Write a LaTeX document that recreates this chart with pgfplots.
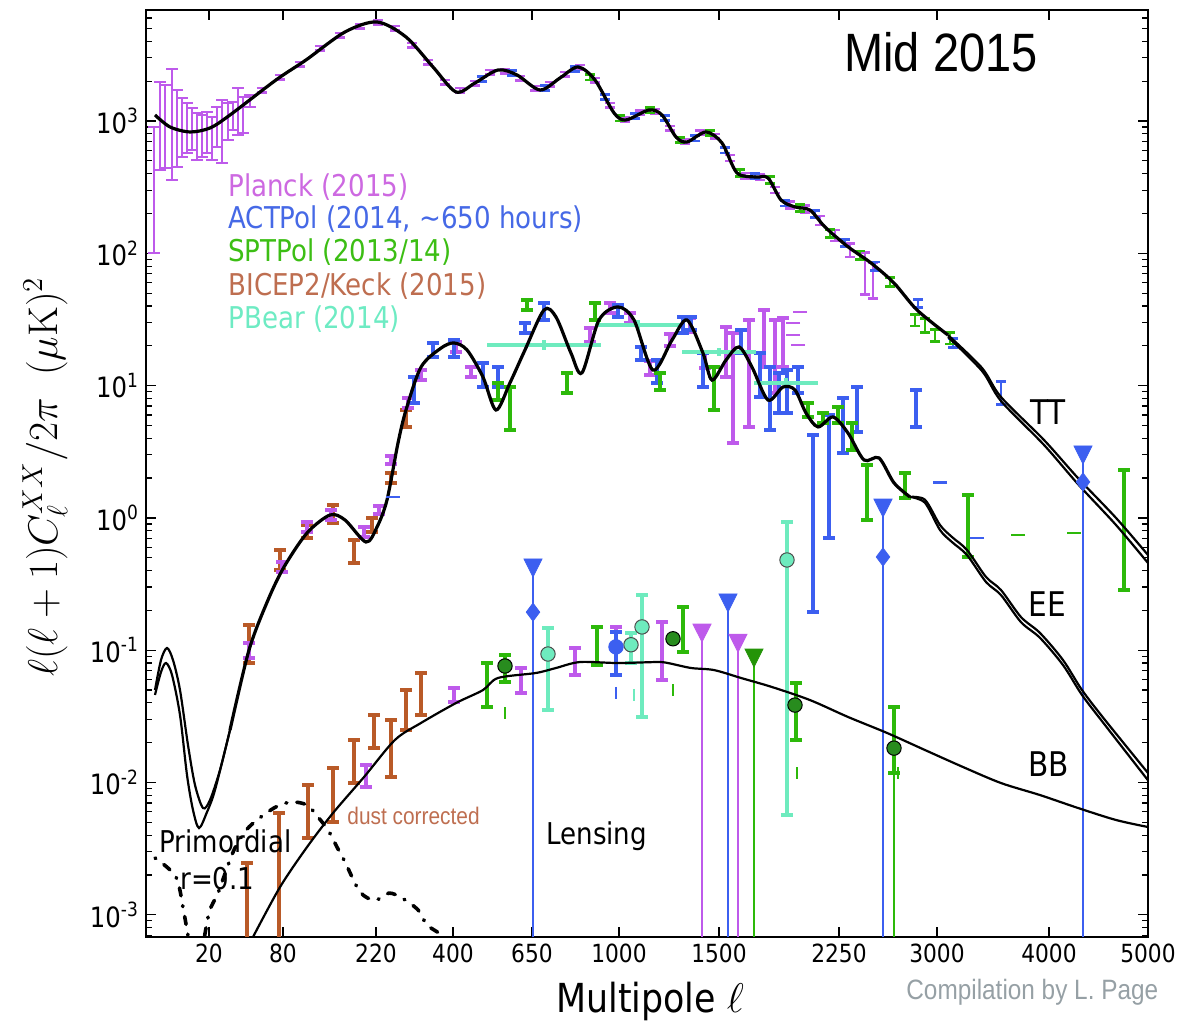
\documentclass[border=0pt]{standalone}
\usepackage[no-math]{fontspec}
\setmainfont{DejaVu Sans}[FakeStretch=0.87]
\newfontfamily\arialc{Liberation Sans}[FakeStretch=0.87]
\usepackage{pgfplots}
\pgfplotsset{compat=1.18}
\definecolor{planck}{RGB}{190,90,235}
\definecolor{act}{RGB}{60,95,240}
\definecolor{spt}{RGB}{45,185,10}
\definecolor{bicep}{RGB}{185,90,40}
\definecolor{pbear}{RGB}{110,235,190}
\definecolor{dkgreen}{RGB}{40,140,30}
\definecolor{plancktxt}{RGB}{205,105,225}
\definecolor{acttxt}{RGB}{70,105,230}
\definecolor{spttxt}{RGB}{60,190,20}
\definecolor{biceptxt}{RGB}{190,110,80}
\definecolor{pbeartxt}{RGB}{110,235,195}
\definecolor{pagegray}{RGB}{150,160,165}
\pgfplotsset{
  ebar/.style 2 args={draw=none, mark=none, forget plot,
    error bars/.cd, y dir=both, y explicit,
    error bar style={draw=#1, line width=#2},
    error mark options={draw=#1, line width=#2, mark size=2.8pt, rotate=90}},
  rbar/.style 2 args={draw=none, mark=none, forget plot,
    error bars/.cd, y dir=both, y explicit relative,
    error bar style={draw=#1, line width=#2},
    error mark options={draw=#1, line width=#2, mark size=2.6pt, rotate=90}},
}
\begin{document}
\begin{tikzpicture}
\useasboundingbox (-73pt,-43pt) rectangle (517pt,468.5pt);
\begin{axis}[
  at={(0,0)}, anchor=south west,
  scale only axis, width=501pt, height=463.5pt,
  xmin=146, xmax=1148,
  ymode=log, ymin=6.8e-4, ymax=6900,
  xtick={209,283,376,453,532,619,719,839,937,1049,1148},
  xticklabels={20,80,220,400,650,1000,1500,2250,3000,4000,5000},
  ytick={1e-3,1e-2,1e-1,1,10,100,1000},
  yticklabels={10\textsuperscript{-3},10\textsuperscript{-2},10\textsuperscript{-1},10\textsuperscript{0},10\textsuperscript{1},10\textsuperscript{2},10\textsuperscript{3}},
  minor ytick={7e-4,8e-4,9e-4,2e-3,3e-3,4e-3,5e-3,6e-3,7e-3,8e-3,9e-3,0.02,0.03,0.04,0.05,0.06,0.07,0.08,0.09,0.2,0.3,0.4,0.5,0.6,0.7,0.8,0.9,2,3,4,5,6,7,8,9,20,30,40,50,60,70,80,90,200,300,400,500,600,700,800,900,2000,3000,4000,5000,6000},
  tick align=inside,
  major tick length=5pt, minor tick length=3pt,
  every tick/.style={black, line width=0.6pt},
  axis line style={line width=1pt},
  xticklabel style={font=\fontsize{12.5}{14}\selectfont},
  yticklabel style={font=\fontsize{14}{16}\selectfont},
]
% ---------------- TT data ----------------
\addplot[ebar={planck}{0.9pt}] table[x=u, y=v, y error plus expr=\thisrow{hi}-\thisrow{v}, y error minus expr=\thisrow{v}-\thisrow{lo}] {
u v lo hi
154 658 100.5 901
160 855 426 1972
165 933 441 1871
172 1018 358 2472
177 855 449 1715
182 933 535 1492
187 885 573 1368
192 855 604 1254
197 757 507 1150
202 784 535 1110
207 812 573 1170
212 744 507 1072
217 901 636 1276
222 826 481 1441
228 983 719 1368
233 1072 855 1392
238 1170 784 1776
243 1110 812 1519
250 1441 1276 1572
};
\addplot[rbar={planck}{1.2pt}] table[x=u, y=v, y error=r] {
u v r
262 1715 0.04
280 2150 0.04
300 2697 0.04
320 3563 0.04
340 4467 0.04
360 5225 0.04
378 5603 0.04
395 5046 0.04
412 3753 0.04
428 2793 0.04
445 1972 0.04
460 1715 0.04
475 1938 0.04
490 2347 0.04
505 2388 0.04
520 2113 0.04
535 1776 0.04
550 1904 0.04
565 2266 0.04
580 2560 0.04
595 2041 0.04
610 1321 0.04
625 1035 0.04
640 1150 0.04
655 1190 0.04
670 885 0.04
685 706 0.04
700 812 0.04
715 770 0.04
730 525 0.05
745 384 0.05
760 377 0.05
775 301 0.05
790 232 0.06
805 216 0.06
820 178 0.08
835 137 0.1
850 106 0.12
865 75 0.35
873 65 0.3
};
\addplot[rbar={act}{1.4pt}] table[x=u, y=v, y error=r] {
u v r
482 2078 0.04
512 2306 0.04
545 1776 0.04
575 2472 0.04
605 1519 0.04
635 1091 0.04
665 1054 0.04
695 744 0.05
725 604 0.05
755 384 0.05
785 240 0.05
815 198 0.06
845 120 0.06
875 80.2 0.07
918 42.1 0.07
953 21.0 0.08
1001 8.95 0.2
};
\addplot[rbar={spt}{1.4pt}] table[x=u, y=v, y error=r] {
u v r
590 2150 0.05
620 1054 0.05
650 1211 0.05
680 719 0.05
710 812 0.05
740 405 0.06
770 358 0.06
800 220 0.06
830 142 0.07
860 97.1 0.07
890 60.7 0.08
915 31.3 0.1
925 28.7 0.12
935 24.1 0.1
950 22.9 0.1
};
% ---------------- EE data ----------------
\addplot[ebar={bicep}{2pt}] table[x=u, y=v, y error plus expr=\thisrow{hi}-\thisrow{v}, y error minus expr=\thisrow{v}-\thisrow{lo}] {
u v lo hi
249 0.110 0.0800 0.155
280 0.481 0.404 0.572
307 0.796 0.705 0.884
333 1.07 0.915 1.25
354 0.553 0.456 0.681
372 0.884 0.782 1.00
391 2.00 1.84 2.19
406 5.69 4.87 6.54
};
\addplot[ebar={planck}{2pt}] table[x=u, y=v, y error plus expr=\thisrow{hi}-\thisrow{v}, y error minus expr=\thisrow{v}-\thisrow{lo}] {
u v lo hi
249 0.100 0.0873 0.113
282 0.425 0.390 0.464
307 0.854 0.782 0.931
331 1.05 0.964 1.15
364 0.782 0.717 0.854
379 1.15 1.07 1.23
391 2.74 2.56 2.94
408 7.39 6.77 8.06
421 12.0 11.0 13.1
456 19.6 17.9 21.4
471 12.7 11.6 13.8
590 24.1 21.4 27.3
610 38.6 35.4 42.1
630 32.4 29.7 35.4
650 13.6 12.0 15.3
670 22.1 19.9 24.6
690 28.7 25.4 32.4
705 15.6 13.6 17.9
726 18.6 11.6 27.7
733 9.26 3.68 25.0
749 13.1 4.87 31.3
764 22.1 13.8 37.3
775 17.0 8.79 31.3
783 20.3 13.8 32.4
};
\addplot[ebar={act}{2pt}] table[x=u, y=v, y error plus expr=\thisrow{hi}-\thisrow{v}, y error minus expr=\thisrow{v}-\thisrow{lo}] {
u v lo hi
414 9.26 7.39 11.6
433 18.6 16.5 21.0
454 19.2 16.5 22.1
483 12.0 9.76 14.8
498 11.6 9.76 13.8
525 27.3 25.0 29.7
544 36.0 31.3 42.1
618 36.6 33.0 40.7
641 17.6 15.6 19.6
657 12.9 10.5 15.6
683 28.7 25.0 33.0
691 29.7 26.3 33.0
703 13.1 9.76 17.6
741 21.7 17.6 26.3
760 12.0 8.20 17.6
770 8.06 4.62 13.8
779 8.79 6.21 12.5
787 9.10 6.21 13.1
798 11.0 8.79 13.8
813 0.915 0.194 4.23
829 2.07 0.705 6.00
843 5.04 3.09 8.06
857 6.54 4.46 9.76
916 6.77 4.87 9.26
};
\addplot[ebar={spt}{2pt}] table[x=u, y=v, y error plus expr=\thisrow{hi}-\thisrow{v}, y error minus expr=\thisrow{v}-\thisrow{lo}] {
u v lo hi
498 9.10 7.78 10.5
510 6.77 4.62 9.76
527 40.7 37.3 44.4
567 10.5 8.79 12.5
595 36.6 31.3 42.1
660 10.8 9.26 12.5
714 9.59 6.54 13.8
808 6.54 5.79 7.39
823 5.69 5.22 6.21
838 6.00 5.22 6.89
852 4.16 3.26 5.22
867 1.57 0.964 2.51
905 1.77 1.41 2.19
968 0.869 0.507 1.49
1124 0.810 0.285 2.30
};
\addplot[draw=none, mark=none, forget plot,
  error bars/.cd, x dir=both, x explicit, y dir=both, y explicit,
  error bar style={draw=pbear, line width=2pt}, error mark=none]
  table[x=u, y=v, x error=xe, y error plus expr=\thisrow{hi}-\thisrow{v}, y error minus expr=\thisrow{v}-\thisrow{lo}] {
u v xe lo hi
544 20.3 57 18.6 22.1
638 28.7 43 26.3 31.3
719 17.9 37 16.7 19.2
786 10.5 32 9.59 11.4
};
\addplot[only marks, mark=-, mark size=3.5pt, mark options={draw=planck, line width=1.4pt}, forget plot] coordinates {(800,36.0) (793,29.7) (793,24.1) (798,20.3)};
\addplot[only marks, mark=-, mark size=3.5pt, mark options={draw=act, line width=1.4pt}, forget plot] coordinates {(393,1.44) (940,1.84) (977,0.705)};
\addplot[only marks, mark=-, mark size=3.5pt, mark options={draw=spt, line width=1.4pt}, forget plot] coordinates {(1018,0.743) (1074,0.769)};
% ---------------- BB data ----------------
\addplot[ebar={bicep}{2pt}] table[x=u, y=v, y error plus expr=\thisrow{hi}-\thisrow{v}, y error minus expr=\thisrow{v}-\thisrow{lo}] {
u v lo hi
247 0.00129 0.0003 0.00246
279 0.00183 0.0003 0.00588
308 0.00598 0.00381 0.00958
333 0.00804 0.00503 0.0129
354 0.0143 0.00991 0.0210
374 0.0241 0.0182 0.0324
391 0.0182 0.0110 0.0297
406 0.0353 0.0249 0.0500
421 0.0467 0.0324 0.0673
};
\addplot[ebar={planck}{2pt}] table[x=u, y=v, y error plus expr=\thisrow{hi}-\thisrow{v}, y error minus expr=\thisrow{v}-\thisrow{lo}] {
u v lo hi
366 0.0112 0.00925 0.0136
454 0.0459 0.0406 0.0518
521 0.0595 0.0475 0.0734
575 0.0829 0.0650 0.104
616 0.126 0.106 0.150
662 0.0987 0.0595 0.163
};
\addplot[ebar={spt}{2pt}] table[x=u, y=v, y error plus expr=\thisrow{hi}-\thisrow{v}, y error minus expr=\thisrow{v}-\thisrow{lo}] {
u v lo hi
487 0.0546 0.0372 0.0800
505 0.0760 0.0575 0.0920
597 0.108 0.0773 0.150
683 0.142 0.0969 0.212
796 0.0347 0.0210 0.0565
894 0.0182 0.0118 0.0372
};
\addplot[ebar={pbear}{2pt}] table[x=u, y=v, y error plus expr=\thisrow{hi}-\thisrow{v}, y error minus expr=\thisrow{v}-\thisrow{lo}] {
u v lo hi
548 0.0936 0.0353 0.147
631 0.110 0.0800 0.135
642 0.150 0.0313 0.261
787 0.481 0.00568 0.931
};
\addplot[ebar={act}{2pt}] table[x=u, y=v, y error plus expr=\thisrow{hi}-\thisrow{v}, y error minus expr=\thisrow{v}-\thisrow{lo}] {
u v lo hi
616 0.106 0.0650 0.137
};
% vertical lines of the upper limits
\addplot[act, line width=1.4pt, forget plot] coordinates {(533,0.441) (533,3e-4)};
\addplot[act, line width=1.4pt, forget plot] coordinates {(728,0.24) (728,3e-4)};
\addplot[act, line width=1.4pt, forget plot] coordinates {(883,1.25) (883,3e-4)};
\addplot[act, line width=1.4pt, forget plot] coordinates {(1083,3.15) (1083,3e-4)};
\addplot[planck, line width=1.4pt, forget plot] coordinates {(702,0.142) (702,3e-4)};
\addplot[planck, line width=1.4pt, forget plot] coordinates {(738,0.119) (738,3e-4)};
\addplot[spt, line width=1.4pt, forget plot] coordinates {(754,0.092) (754,3e-4)};
\addplot[spt, line width=1.4pt, forget plot] coordinates {(894,0.0182) (894,3e-4)};
% small lower markers
\addplot[only marks, mark=|, mark size=3pt, mark options={draw=spt, line width=1pt}, forget plot] coordinates {(505,0.0335) (673,0.0500) (797,0.0118) (898,0.0118)};
\addplot[only marks, mark=|, mark size=3pt, mark options={draw=act, line width=1pt}, forget plot] coordinates {(616,0.0475)};
\addplot[only marks, mark=|, mark size=3pt, mark options={draw=pbear, line width=1pt}, forget plot] coordinates {(634,0.0459)};
% ---------------- theory curves ----------------
\addplot[black, line width=1.6pt, smooth, forget plot] table {
u v
155 1110
170 901
190 826
210 885
230 1110
276 2041
306 2891
345 4708
377 5603
406 4313
433 2560
456 1657
475 1938
498 2429
517 2227
540 1715
560 2113
578 2560
595 2041
614 1150
626 1018
649 1211
662 1110
676 757
687 694
706 826
722 682
737 405
756 377
768 371
781 253
795 224
810 212
825 158
848 112
871 84.5
894 59.6
917 37.3
948 24.1
};
\addplot[black, line width=1.1pt, smooth, forget plot] table {
u v
948 24.1
982 13.6
1001 8.20
1044 3.88
1078 2.00
1116 1.00
1148 0.524
};
\addplot[black, line width=1.1pt, smooth, forget plot] table {
u v
948 23.3
982 12.9
1001 7.65
1044 3.56
1078 1.80
1116 0.884
1148 0.456
};
% EE
\addplot[black, line width=1.1pt, smooth, forget plot] table {
u v
155 0.0500
161 0.0843
167 0.1039
173 0.0843
180 0.0500
188 0.0192
195 0.00958
203 0.00642
210 0.00737
220 0.01243
230 0.02493
};
\addplot[black, line width=1.1pt, smooth, forget plot] table {
u v
155 0.0459
161 0.0684
166 0.0800
172 0.0650
180 0.0324
187 0.0114
193 0.00620
199 0.00453
207 0.00598
215 0.00878
230 0.02493
};
\addplot[black, line width=1.6pt, smooth, forget plot] table {
u v
230 0.02493
249 0.1003
268 0.2395
284 0.4255
307 0.769
330 1.052
345 0.964
366 0.657
377 0.853
387 1.366
398 3.68
406 6.54
421 13.8
441 19.2
454 21.0
467 18.6
483 11.6
496 6.54
510 10.5
525 18.6
544 37.3
556 33.0
571 17.6
582 12.5
599 31.3
618 39.3
634 31.3
653 13.1
672 22.1
687 31.3
703 17.6
712 11.0
726 15.6
739 19.6
752 13.8
768 7.78
783 9.76
795 9.26
806 6.21
818 4.87
833 5.79
848 4.38
864 2.74
879 2.84
894 1.84
910 1.44
};
\addplot[black, line width=1.1pt, smooth, forget plot] table {
u v
910 1.44
925 1.37
940 0.884
952 0.717
967 0.572
986 0.358
1001 0.285
1021 0.178
1040 0.135
1063 0.0843
1082 0.0500
1105 0.0297
1148 0.0118
};
\addplot[black, line width=1.1pt, smooth, forget plot] table {
u v
910 1.44
925 1.30
940 0.810
952 0.657
967 0.524
986 0.328
1001 0.261
1021 0.163
1040 0.124
1063 0.0773
1082 0.0459
1105 0.0272
1148 0.0104
};
% BB lensing
\addplot[black, line width=1.1pt, smooth, forget plot] table {
u v
253 6.80e-4
280 1.62e-3
307 3.25e-3
333 5.88e-3
364 0.0110
395 0.0210
421 0.0282
456 0.0399
483 0.0500
498 0.0617
536 0.0673
556 0.0734
580 0.0814
618 0.0800
657 0.0814
668 0.0800
691 0.0734
714 0.0708
741 0.0617
772 0.0527
810 0.0420
848 0.0313
887 0.0237
925 0.0176
963 0.0131
1001 0.00991
1040 0.00804
1078 0.00642
1116 0.00521
1148 0.00461
};
% primordial r=0.1
\addplot[black, line width=1.8pt, line cap=round, dash pattern=on 0.5pt off 5pt on 4pt off 5pt, smooth, forget plot] table {
u v
155 2.69e-3
176 1.93e-3
184 1.03e-3
190 5.91e-4
198 4.0e-4
209 1.03e-3
218 1.46e-3
234 3.09e-3
249 4.61e-3
274 6.42e-3
291 7.12e-3
307 6.76e-3
318 5.48e-3
328 4.38e-3
337 3.25e-3
345 2.51e-3
360 1.49e-3
375 1.29e-3
389 1.46e-3
402 1.34e-3
418 1.09e-3
427 8.38e-4
441 7.04e-4
455 5.0e-4
};
% ---------------- markers on top ----------------
\addplot[only marks, mark=*, mark size=3.6pt, mark options={fill=dkgreen, draw=black, line width=0.5pt}, forget plot] coordinates {(505,0.0760) (673,0.122) (795,0.0385) (894,0.0182)};
\addplot[only marks, mark=*, mark size=3.6pt, mark options={fill=pbear, draw=black!70, line width=0.5pt}, forget plot] coordinates {(548,0.0936) (631,0.110) (642,0.150) (787,0.481)};
\addplot[only marks, mark=*, mark size=3.6pt, mark options={fill=act, draw=act, line width=0.5pt}, forget plot] coordinates {(616,0.106)};
\addplot[only marks, mark=diamond*, mark size=4.5pt, mark options={fill=act, draw=act}, forget plot] coordinates {(533,0.194) (883,0.507) (1083,1.87)};
\addplot[only marks, mark=triangle*, mark size=6pt, mark options={rotate=180, fill=act, draw=act, xscale=0.87}, forget plot] coordinates {(533,0.441) (728,0.24) (883,1.25) (1083,3.15)};
\addplot[only marks, mark=triangle*, mark size=6pt, mark options={rotate=180, fill=planck, draw=planck, xscale=0.87}, forget plot] coordinates {(702,0.142) (738,0.119)};
\addplot[only marks, mark=triangle*, mark size=6pt, mark options={rotate=180, fill=spt!80!black, draw=spt!80!black, xscale=0.87}, forget plot] coordinates {(754,0.092)};
\end{axis}
% ---------------- texts ----------------
\node[anchor=center, inner sep=0] at (397.5pt,442.5pt) {\arialc\fontsize{27}{30}\selectfont Mid 2015};
\begin{scope}[every node/.style={anchor=base west, inner sep=0, font=\fontsize{15}{18}\selectfont}]
\node[text=plancktxt] at (41pt,370pt) {Planck (2015)};
\node[text=acttxt] at (41pt,354pt) {ACTPol (2014, \textasciitilde650 hours)};
\node[text=spttxt] at (41pt,337.5pt) {SPTPol (2013/14)};
\node[text=biceptxt] at (41pt,320.5pt) {BICEP2/Keck (2015)};
\node[text=pbeartxt] at (41pt,304pt) {PBear (2014)};
\node at (200pt,46pt) {Lensing};
\node at (6.5pt,42pt) {Primordial};
\node at (17pt,23.5pt) {r=0.1};
\end{scope}
\begin{scope}[every node/.style={anchor=base west, inner sep=0, font=\fontsize{17}{20}\selectfont}]
\node at (442pt,256pt) {TT};
\node at (441pt,160pt) {EE};
\node at (441pt,80pt) {BB};
\end{scope}
\node[anchor=base west, inner sep=0, text=biceptxt] at (100.5pt,56pt) {\arialc\fontsize{12}{14}\selectfont dust corrected};
\node[anchor=base west, inner sep=0, text=pagegray] at (380pt,-31.5pt) {\arialc\fontsize{14}{16}\selectfont Compilation by L. Page};
\node[anchor=base west, inner sep=0] at (205pt,-38pt) {\fontsize{20}{24}\selectfont Multipole $\ell$};
\node[rotate=90, anchor=center, inner sep=0] at (-50.5pt,230pt) {\fontsize{22}{26}\selectfont $\ell(\ell+1)C_\ell^{XX}/2\pi\enspace(\mu\mathrm{K})^2$};
\end{tikzpicture}
\end{document}
